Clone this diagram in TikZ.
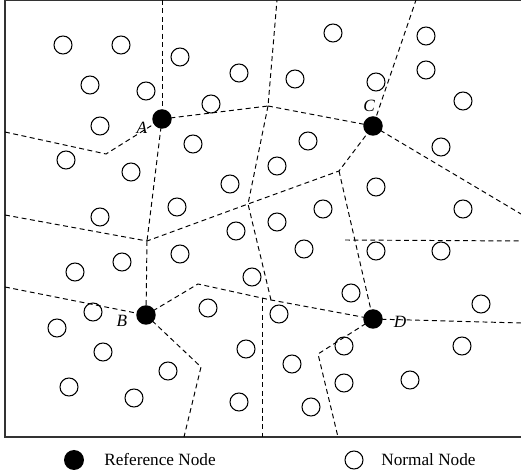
\documentclass[tikz,border=0pt]{standalone}
\usepackage{fontspec}
\setmainfont{Liberation Serif}
\usepackage{tikz}

\begin{document}
\begin{tikzpicture}[x=0.02cm,y=-0.02cm,
    nnode/.style={circle, draw, line width=0.6pt, inner sep=0pt, minimum size=0.36cm},
    rnode/.style={circle, fill=black, inner sep=0pt, minimum size=0.39cm},
    cell/.style={dashed, dash pattern=on 2.8pt off 2pt, line width=0.55pt},
    tag/.style={font=\fontsize{9.8}{11}\selectfont\itshape, inner sep=0pt},
    legend/.style={font=\fontsize{9.8}{11}\selectfont, inner sep=0pt, anchor=west}]
      \useasboundingbox (0,0) rectangle (521,472);
      \draw[line width=0.6pt, black!80] (525,0) -- (5,0) -- (5,437) -- (525,437);
      % normal nodes
      \foreach \px/\py [count=\i] in {63/45,121/45,180/57,239/73,90/85,146/91,211/104,100/126,
          193/144,66/160,131/172,230/184,177/207,100/217,333/33,426/36,426/70,295/79,376/82,
          463/101,308/141,277/166,441/147,376/187,323/209,463/209,236/231,75/272,122/262,
          180/254,252/277,93/312,57/328,208/308,103/352,246/349,168/371,69/387,134/398,
          239/402,277/222,304/249,351/293,279/314,376/251,441/251,481/304,344/346,462/346,
          292/364,344/383,410/380,311/407}
        \node[nnode, name=n\i] at (\px,\py) {};
      % reference nodes
      \node[rnode, name=A] at (162,119) {};
      \node[rnode, name=B] at (146,315) {};
      \node[rnode, name=C] at (373,126) {};
      \node[rnode, name=D] at (373,319) {};
      \node[tag, name=lA] at (142,128) {A};
      \node[tag, name=lB] at (122,321) {B};
      \node[tag, name=lC] at (369,106) {C};
      \node[tag, name=lD] at (400,322) {D};
      % cell corners
      \coordinate (v1) at (268,106);
      \coordinate (v2) at (248,204);
      \coordinate (v3) at (339,171);
      \coordinate (v4) at (147,241);
      \coordinate (v5) at (106,154);
      \coordinate (v6) at (198,284);
      \coordinate (v7) at (271,300);
      \coordinate (v8) at (201,367);
      \coordinate (v9) at (318,354);
      \coordinate (v10) at (345,240);
      \coordinate (v11) at (262,298);
      % ends on the frame
      \coordinate (t1) at (162,0);
      \coordinate (t2) at (277,0);
      \coordinate (t3) at (416,0);
      \coordinate (l1) at (5,132);
      \coordinate (l2) at (5,215);
      \coordinate (l3) at (5,287);
      \coordinate (r1) at (521,214);
      \coordinate (r2) at (521,241);
      \coordinate (r3) at (521,323);
      \coordinate (b1) at (184,437);
      \coordinate (b2) at (262,437);
      \coordinate (b3) at (338,437);
      % cell borders
      \draw[cell] (t1) -- (A.center);
      \draw[cell] (A.center) -- (v1) -- (t2);
      \draw[cell] (v1) -- (C.center) -- (t3);
      \draw[cell] (C.center) -- (r1);
      \draw[cell] (l1) -- (v5) -- (A.center) -- (v4);
      \draw[cell] (l2) -- (v4) -- (v2) -- (v3) -- (C.center);
      \draw[cell] (v1) -- (v2) -- (v7);
      \draw[cell] (v4) -- (B.center);
      \draw[cell] (l3) -- (B.center) -- (v6) -- (v7) -- (D.center);
      \draw[cell] (v3) -- (D.center) -- (r3);
      \draw[cell] (v10) -- (r2);
      \draw[cell] (v11) -- (b2);
      \draw[cell] (B.center) -- (v8) -- (b1);
      \draw[cell] (D.center) -- (v9) -- (b3);
      % legend
      \node[rnode, minimum size=0.4cm, name=keyR] at (74,460) {};
      \node[legend, name=txtR] at (104,460) {Reference Node};
      \node[nnode, name=keyN] at (354,460) {};
      \node[legend, name=txtN] at (381,460) {Normal Node};
\end{tikzpicture}
\end{document}
